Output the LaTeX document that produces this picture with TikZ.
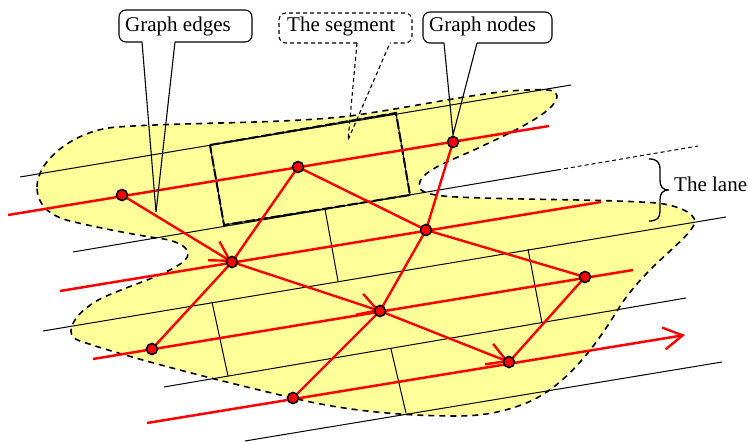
\documentclass[tikz,border=0pt]{standalone}
\usepackage{fontspec}
\setmainfont{Liberation Serif}
\usetikzlibrary{arrows.meta}
\pgfdeclarelayer{blob}
\pgfdeclarelayer{lines}
\pgfsetlayers{blob,lines,main}
\definecolor{lanefill}{HTML}{FFFF99}
\tikzset{
  lanefree/.style={draw=black,line width=1bp},
  crossline/.style={draw=black,line width=1bp},
  segbold/.style={draw=black,line width=2bp,dash pattern=on 10bp off 3bp},
  redlane/.style={draw=red,line width=2.5bp},
  rededge/.style={draw=red,line width=2.4bp},
  barb/.style={-{Straight Barb[length=19bp,width=22bp,line width=2.4bp]}},
  dot/.style={circle,draw=black,fill=red,line width=1.6bp,minimum size=11bp,inner sep=0pt},
  calloutbox/.style={draw=black,line width=1.1bp,rounded corners=7bp,line join=round},
  calloutdash/.style={calloutbox,dash pattern=on 4bp off 3bp},
  label/.style={anchor=base west,inner sep=0pt,font=\fontsize{21bp}{24bp}\selectfont,text=black}
}
\begin{document}
\begin{tikzpicture}[x=1bp,y=-1bp]
\useasboundingbox (0,0) rectangle (748,442);
% graph nodes
\node[dot] (a) at (122,195) {};
\node[dot] (b) at (298,167) {};
\node[dot] (c) at (453,142) {};
\node[dot] (d) at (232,262) {};
\node[dot] (e) at (426,230) {};
\node[dot] (f) at (152,349) {};
\node[dot] (g) at (380,311) {};
\node[dot] (h) at (585,277) {};
\node[dot] (i) at (293,398) {};
\node[dot] (j) at (509,362) {};
% labels
\node[label] (tedges) at (125,32) {Graph edges};
\node[label] (tseg) at (287,32) {The segment};
\node[label] (tnodes) at (429,32) {Graph nodes};
\node[label] (tlane) at (674,192) {The lane};
% end points
\coordinate (l1a) at (20,177); \coordinate (l1b) at (571,85);
\coordinate (l2a) at (73,252); \coordinate (l2b) at (557,170); \coordinate (l2c) at (698,146);
\coordinate (l3a) at (43,331); \coordinate (l3b) at (726,217);
\coordinate (l4a) at (164,387); \coordinate (l4b) at (686,298);
\coordinate (l5a) at (245,441); \coordinate (l5b) at (722,362);
\coordinate (r1a) at (8,215); \coordinate (r1b) at (549,126);
\coordinate (r2a) at (60,291); \coordinate (r2b) at (601,202);
\coordinate (r3a) at (93,359); \coordinate (r3b) at (633,270);
\coordinate (r4a) at (147,423); \coordinate (r4b) at (685,335);
\coordinate (s1) at (210,145); \coordinate (s2) at (396,113);
\coordinate (s3) at (410,195); \coordinate (s4) at (224,225);
\begin{pgfonlayer}{blob}
\draw[fill=lanefill,draw=black,line width=1.6bp,dash pattern=on 6bp off 5bp]
  (37,187) .. controls (37,160) and (75,130) .. (117,127)
  .. controls (190,122) and (280,124) .. (350,116)
  .. controls (420,106) and (490,90) .. (530,90)
  .. controls (548,89) and (557,90) .. (557,96)
  .. controls (557,112) and (510,133) .. (474,150)
  .. controls (445,163) and (419,172) .. (419,186)
  .. controls (419,193) and (435,196) .. (457,197)
  .. controls (520,200) and (600,199) .. (657,203)
  .. controls (675,205) and (695,212) .. (695,222)
  .. controls (690,240) and (645,265) .. (617,311)
  .. controls (590,355) and (560,390) .. (524,404)
  .. controls (500,413) and (480,416) .. (457,416)
  .. controls (410,416) and (350,412) .. (293,398)
  .. controls (220,381) and (130,358) .. (80,341)
  .. controls (74,339) and (71,336) .. (71,331)
  .. controls (71,320) and (85,307) .. (100,299)
  .. controls (125,287) and (160,277) .. (177,266)
  .. controls (184,262) and (188,258) .. (188,254)
  .. controls (188,246) and (175,240) .. (157,238)
  .. controls (130,234) and (95,227) .. (70,221)
  .. controls (50,216) and (37,205) .. (37,187) -- cycle;
\end{pgfonlayer}
\begin{pgfonlayer}{lines}
% lane borders
\draw[lanefree] (l1a) -- (l1b);
\draw[lanefree] (l2a) -- (l2b);
\draw[draw=black,line width=1bp,dash pattern=on 4bp off 3bp] (l2b) -- (l2c);
\draw[lanefree] (l3a) -- (l3b);
\draw[lanefree] (l4a) -- (l4b);
\draw[lanefree] (l5a) -- (l5b);
% cross lines
\draw[crossline] (325,209) -- (338,281);
\draw[crossline] (212,302) -- (228,376);
\draw[crossline] (528,249) -- (542,323);
\draw[crossline] (391,349) -- (406,413);
% the segment
\draw[crossline] (s1) -- (s2) -- (s3) -- (s4) -- cycle;
\draw[segbold] (s1) -- (s2) -- (s3) -- (s4) -- cycle;
% red lanes
\draw[redlane] (r1a) -- (r1b);
\draw[redlane] (r2a) -- (r2b);
\draw[redlane] (r3a) -- (r3b);
\draw[redlane,barb] (r4a) -- (r4b);
% graph edges
\draw[rededge,barb] (a.center) -- (d.center);
\draw[rededge,barb] (d.center) -- (g.center);
\draw[rededge,barb] (g.center) -- (j.center);
\draw[rededge] (b.center) -- (e.center);
\draw[rededge] (e.center) -- (h.center);
\draw[rededge] (c.center) -- (e.center);
\draw[rededge] (e.center) -- (g.center);
\draw[rededge] (g.center) -- (i.center);
\draw[rededge] (b.center) -- (d.center);
\draw[rededge] (d.center) -- (f.center);
\draw[rededge] (h.center) -- (j.center);
% callouts
\draw[calloutbox] (142,42) -- (119,42) -- (119,10) -- (252,10) -- (252,42) -- (175,42);
\draw[draw=black,line width=1.1bp] (142,42) -- (156,212) -- (175,42);
\draw[calloutbox] (444,43) -- (423,43) -- (423,12) -- (552,12) -- (552,43) -- (477,43);
\draw[draw=black,line width=1.1bp] (444,43) -- (453,135) -- (477,43);
\draw[calloutdash] (357,43) -- (279,43) -- (279,13) -- (412,13) -- (412,43) -- (390,43);
\draw[draw=black,line width=1.1bp,dash pattern=on 4bp off 3bp] (357,43) -- (348,140) -- (390,43);
% brace
\draw[draw=black,line width=1.3bp]
  (649,159) .. controls (657,159) and (660,162) .. (660,170) -- (660,180)
  .. controls (660,186) and (662,190) .. (669,190)
  .. controls (662,190) and (660,194) .. (660,200) -- (660,211)
  .. controls (660,218) and (657,221) .. (649,221);
\end{pgfonlayer}
\end{tikzpicture}
\end{document}
